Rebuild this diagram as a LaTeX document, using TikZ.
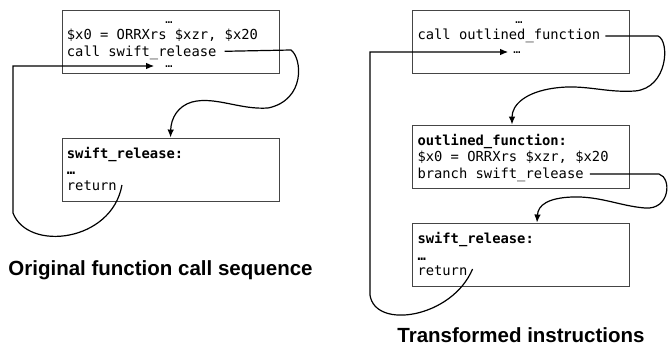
\documentclass[tikz,border=0pt]{standalone}
\usepackage{fontspec}
\newfontfamily\codefont{DejaVu Sans Mono}
\newfontfamily\capfont{Liberation Sans}
\usetikzlibrary{arrows.meta}
\definecolor{boxgray}{HTML}{454545}
\begin{document}
\begin{tikzpicture}[x=1pt,y=-1pt,
  box/.style={draw=boxgray, line width=0.9pt, minimum width=217pt, minimum height=63pt, inner sep=0pt},
  code/.style={font=\codefont\fontsize{13.8}{16}\selectfont, inner sep=0pt, anchor=base west},
  codeb/.style={code, font=\codefont\bfseries\fontsize{13.8}{16}\selectfont},
  dotc/.style={font=\codefont\fontsize{12}{14}\selectfont, inner sep=0pt, anchor=base},
  conn/.style={line width=1.2pt, black},
  arr/.style={conn, -{Latex[length=8pt,width=6.5pt]}},
  captext/.style={font=\capfont\bfseries\fontsize{20.5}{24}\selectfont, inner sep=0pt, anchor=base}
]
\useasboundingbox (0,0) rectangle (668,345);

% ---------- left: original ----------
\node[box] (boxLa) at (170.5,41.5) {};
\node[dotc] (eLa) at (169,24) {…};
\node[code] (orrL) at (66.7,39.7) {\$x0 = ORRXrs \$xzr, \$x20};
\node[code] (callL) at (66.7,56.3) {call swift\_release};
\node[dotc] (eLb) at (169,67) {…};

\node[box] (boxLb) at (170.5,169.5) {};
\node[codeb] (relL) at (66.7,158.3) {swift\_release:};
\node[codeb] (eLc) at (66.7,174) {…};
\node[code] (retL) at (66.7,190) {return};

\node[captext] (capL) at (160.5,275) {Original function call sequence};

\draw[arr] ([shift={(8,-5)}]callL.base east) -- (291,50)
  .. controls (302,58) and (306,100) .. (268,108)
  .. controls (240,110) and (215,96) .. (192,102)
  .. controls (178,106) and (171,118) .. (boxLb.north);

\draw[arr] ([shift={(5,-5)}]retL.base east)
  .. controls (112,242) and (28,252) .. (13,213)
  -- (13,66) -- ([shift={(-11,-1)}]eLb.base west);

% ---------- right: transformed ----------
\node[box] (boxRa) at (520.5,41.5) {};
\node[dotc] (eRa) at (519,24) {…};
\node[code] (callR) at (417.3,40) {call outlined\_function};
\node[dotc] (eRb) at (517,53) {…};

\node[box] (boxRb) at (520.5,156.5) {};
\node[codeb] (outR) at (417.3,145) {outlined\_function:};
\node[code] (orrR) at (417.3,161.7) {\$x0 = ORRXrs \$xzr, \$x20};
\node[code] (brR) at (417.3,178.3) {branch swift\_release};

\node[box] (boxRc) at (520.5,254.5) {};
\node[codeb] (relR) at (417.3,243.3) {swift\_release:};
\node[codeb] (eRc) at (417.3,260) {…};
\node[code] (retR) at (417.3,275) {return};

\node[captext] (capR) at (521,342) {Transformed instructions};

\draw[arr] ([shift={(5,-4)}]callR.base east) -- (658,36)
  .. controls (670,41) and (668,88) .. (635,91)
  .. controls (605,93) and (585,84) .. (555,88)
  .. controls (525,92) and (512,105) .. ([xshift=-8.5pt]boxRb.north);

\draw[arr] ([shift={(6,-4.3)}]brR.base east) -- (659,174)
  .. controls (672,178) and (670,210) .. (645,208)
  .. controls (620,206) and (600,196) .. (572,197)
  .. controls (548,198) and (538,205) .. ([xshift=16.5pt]boxRc.north);

\draw[arr] ([shift={(5,-6)}]retR.base east)
  .. controls (452,318) and (375,330) .. (370,295)
  -- (370,52) -- ([shift={(-5,-1)}]eRb.base west);
\end{tikzpicture}
\end{document}
